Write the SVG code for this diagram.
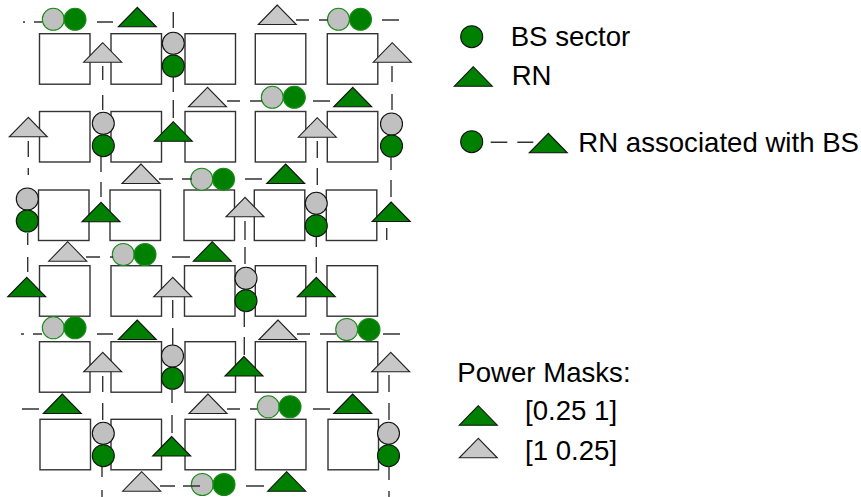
<svg xmlns="http://www.w3.org/2000/svg" xmlns:xlink="http://www.w3.org/1999/xlink" width="861" height="497" viewBox="0 0 861 497">
<style>
.sq{fill:#fff;stroke:#333;stroke-width:1.4}
.tg{fill:#008000;stroke:#111;stroke-width:1.1}
.tl{fill:#c8c8c8;stroke:#222;stroke-width:1.1}
.cgh{fill:#c0c0c0;stroke:#1a8a1a;stroke-width:1.1}
.cnh{fill:#008000;stroke:#1a8a1a;stroke-width:1.1}
.cgv{fill:#c0c0c0;stroke:#111;stroke-width:1.1}
.cnv{fill:#008000;stroke:#111;stroke-width:1.1}
.dl{fill:none;stroke:#333;stroke-width:1.4}
.tx{font-family:"Liberation Sans",Arial,sans-serif;font-size:27.6px;fill:#000}
</style>
<defs>
<path id="tri" d="M0,0 L-19,19.5 L19,19.5 Z"/>
</defs>
<rect width="861" height="497" fill="#fff"/>
<g id="blocks">
<rect class="sq" x="39.5" y="33.7" width="50.5" height="50.5"/>
<rect class="sq" x="111" y="33.7" width="50.5" height="50.5"/>
<rect class="sq" x="185" y="33.7" width="50.5" height="50.5"/>
<rect class="sq" x="255.3" y="33.7" width="50.5" height="50.5"/>
<rect class="sq" x="327.3" y="33.7" width="50.5" height="50.5"/>
<rect class="sq" x="39.5" y="111.5" width="50.5" height="50.5"/>
<rect class="sq" x="111" y="111.5" width="50.5" height="50.5"/>
<rect class="sq" x="185" y="111.5" width="50.5" height="50.5"/>
<rect class="sq" x="255.3" y="111.5" width="50.5" height="50.5"/>
<rect class="sq" x="327.3" y="111.5" width="50.5" height="50.5"/>
<rect class="sq" x="38.5" y="190" width="50.5" height="50.5"/>
<rect class="sq" x="110" y="190" width="50.5" height="50.5"/>
<rect class="sq" x="184" y="190" width="50.5" height="50.5"/>
<rect class="sq" x="254.3" y="190" width="50.5" height="50.5"/>
<rect class="sq" x="326.3" y="190" width="50.5" height="50.5"/>
<rect class="sq" x="39.5" y="265.7" width="50.5" height="50.5"/>
<rect class="sq" x="111" y="265.7" width="50.5" height="50.5"/>
<rect class="sq" x="184.5" y="265.7" width="50.5" height="50.5"/>
<rect class="sq" x="255.3" y="265.7" width="50.5" height="50.5"/>
<rect class="sq" x="327" y="265.7" width="50.5" height="50.5"/>
<rect class="sq" x="39.5" y="341.7" width="50.5" height="50.5"/>
<rect class="sq" x="111" y="341.7" width="50.5" height="50.5"/>
<rect class="sq" x="185" y="341.7" width="50.5" height="50.5"/>
<rect class="sq" x="255.3" y="341.7" width="50.5" height="50.5"/>
<rect class="sq" x="327.3" y="341.7" width="50.5" height="50.5"/>
<rect class="sq" x="40" y="419.3" width="50.5" height="50.5"/>
<rect class="sq" x="111" y="419.3" width="50.5" height="50.5"/>
<rect class="sq" x="185" y="419.3" width="50.5" height="50.5"/>
<rect class="sq" x="255.5" y="419.3" width="50.5" height="50.5"/>
<rect class="sq" x="328" y="419.3" width="50.5" height="50.5"/>
</g>
<g id="rn-green">
<g id="g1"><use xlink:href="#tri" class="tg" x="137.3" y="7.3"/></g>
<g id="g2"><use xlink:href="#tri" class="tg" x="173.3" y="121.7"/></g>
<g id="g3"><use xlink:href="#tri" class="tg" x="352.7" y="87.3"/></g>
<g id="g4"><use xlink:href="#tri" class="tg" x="101" y="202.3"/></g>
<g id="g5"><use xlink:href="#tri" class="tg" x="285.7" y="164"/></g>
<g id="g6"><use xlink:href="#tri" class="tg" x="391.2" y="202"/></g>
<g id="g7"><use xlink:href="#tri" class="tg" x="212.3" y="241.7"/></g>
<g id="g8"><use xlink:href="#tri" class="tg" x="26.7" y="277.3"/></g>
<g id="g9"><use xlink:href="#tri" class="tg" x="316.3" y="277.3"/></g>
<g id="g10"><use xlink:href="#tri" class="tg" x="137.3" y="320"/></g>
<g id="g11"><use xlink:href="#tri" class="tg" x="244" y="356.5"/></g>
<g id="g12"><use xlink:href="#tri" class="tg" x="62.3" y="394"/></g>
<g id="g13"><use xlink:href="#tri" class="tg" x="352.7" y="394"/></g>
<g id="g14"><use xlink:href="#tri" class="tg" x="171.7" y="436.5"/></g>
<g id="g15"><use xlink:href="#tri" class="tg" x="286.7" y="471.7"/></g>
</g>
<g id="rn-gray">
<g id="t1"><use xlink:href="#tri" class="tl" x="102.7" y="42.7"/></g>
<g id="t2"><use xlink:href="#tri" class="tl" x="277.3" y="5"/></g>
<g id="t3"><use xlink:href="#tri" class="tl" x="392.3" y="42.7"/></g>
<g id="t4"><use xlink:href="#tri" class="tl" x="28.3" y="117.3"/></g>
<g id="t5"><use xlink:href="#tri" class="tl" x="207.5" y="87.3"/></g>
<g id="t6"><use xlink:href="#tri" class="tl" x="317.3" y="117.7"/></g>
<g id="t7"><use xlink:href="#tri" class="tl" x="141" y="164"/></g>
<g id="t8"><use xlink:href="#tri" class="tl" x="245" y="197.3"/></g>
<g id="t9"><use xlink:href="#tri" class="tl" x="67.7" y="241.7"/></g>
<g id="t10"><use xlink:href="#tri" class="tl" x="172.7" y="277.3"/></g>
<g id="t11"><use xlink:href="#tri" class="tl" x="278" y="320"/></g>
<g id="t12"><use xlink:href="#tri" class="tl" x="102.7" y="352.3"/></g>
<g id="t13"><use xlink:href="#tri" class="tl" x="390.7" y="352.3"/></g>
<g id="t14"><use xlink:href="#tri" class="tl" x="208" y="394"/></g>
<g id="t15"><use xlink:href="#tri" class="tl" x="141.7" y="471.7"/></g>
</g>
<g id="bs-h">
<g id="h1"><circle class="cgh" cx="53.3" cy="19.3" r="11"/><circle class="cnh" cx="75" cy="19.3" r="11"/></g>
<g id="h2"><circle class="cgh" cx="338.5" cy="19.3" r="11"/><circle class="cnh" cx="360.5" cy="19.3" r="11"/></g>
<g id="h3"><circle class="cgh" cx="272.3" cy="97.3" r="11"/><circle class="cnh" cx="294.3" cy="97.3" r="11"/></g>
<g id="h4"><circle class="cgh" cx="201.7" cy="179.2" r="11"/><circle class="cnh" cx="223.5" cy="179.2" r="11"/></g>
<g id="h5"><circle class="cgh" cx="123.3" cy="254.5" r="11"/><circle class="cnh" cx="145" cy="254.5" r="11"/></g>
<g id="h6"><circle class="cgh" cx="53.3" cy="327.8" r="11"/><circle class="cnh" cx="75" cy="327.8" r="11"/></g>
<g id="h7"><circle class="cgh" cx="346.7" cy="329.5" r="11"/><circle class="cnh" cx="369" cy="329.5" r="11"/></g>
<g id="h8"><circle class="cgh" cx="268.3" cy="406.8" r="11"/><circle class="cnh" cx="290" cy="406.8" r="11"/></g>
<g id="h9"><circle class="cgh" cx="202.3" cy="484.5" r="11"/><circle class="cnh" cx="224" cy="484.5" r="11"/></g>
</g>
<g id="bs-v">
<g id="v1"><circle class="cgv" cx="173.3" cy="43.3" r="11"/><circle class="cnv" cx="173.3" cy="66" r="11"/></g>
<g id="v2"><circle class="cgv" cx="103.3" cy="123.3" r="11"/><circle class="cnv" cx="103.3" cy="145.7" r="11"/></g>
<g id="v3"><circle class="cgv" cx="391.5" cy="124" r="11"/><circle class="cnv" cx="391.5" cy="146" r="11"/></g>
<g id="v4"><circle class="cgv" cx="27.3" cy="199" r="11"/><circle class="cnv" cx="27.3" cy="221" r="11"/></g>
<g id="v5"><circle class="cgv" cx="316.3" cy="203.3" r="11"/><circle class="cnv" cx="316.3" cy="225.7" r="11"/></g>
<g id="v6"><circle class="cgv" cx="246" cy="278.3" r="11"/><circle class="cnv" cx="246" cy="300.7" r="11"/></g>
<g id="v7"><circle class="cgv" cx="172.5" cy="356" r="11"/><circle class="cnv" cx="172.5" cy="378.3" r="11"/></g>
<g id="v8"><circle class="cgv" cx="103.3" cy="433.3" r="11"/><circle class="cnv" cx="103.3" cy="455.7" r="11"/></g>
<g id="v9"><circle class="cgv" cx="388.5" cy="433.3" r="11"/><circle class="cnv" cx="388.5" cy="455.7" r="11"/></g>
</g>
<g id="connectors" class="dl">
<path d="M23,22H25M34,22H42M97,22H113M296,20H309M319,20H328M382,20H399"/>
<path d="M227,101H240M250,101H262M313,101H330"/>
<path d="M159,179H173M182,179H192M245,179H262"/>
<path d="M86,257H100M110,257H113M172,257H190"/>
<path d="M21,334H24M33,334H42M97,334H113M297,334H310M320,334H336M383,334H400"/>
<path d="M22,409H39M227,409H240M250,409H257M313,409H330"/>
<path d="M160,486H175M183,486H200M246,486H264"/>
<path d="M173.3,12V28M173.3,77V92M173.3,100V118"/>
<path d="M102.7,66V80M102.7,95V110"/>
<path d="M392,66V82M392,94V110"/>
<path d="M28.3,141V157M28.3,168V175"/>
<path d="M101,157V172M101,182V197"/>
<path d="M391,157V170M391,180V197"/>
<path d="M386.7,228V240"/>
<path d="M317.3,141V158M317.3,168V185"/>
<path d="M27.7,233V245M27.7,257V272"/>
<path d="M245,221V240M245,247V264"/>
<path d="M316.3,237V247M316.3,257V273"/>
<path d="M172.7,300V318M172.7,328V345"/>
<path d="M244.3,311V327M244.3,337V355"/>
<path d="M172,390V403M172,415V433"/>
<path d="M102.7,376V392M102.7,403V420"/>
<path d="M389,375V392M389,403V420"/>
<path d="M102,467V477M102,490V497"/>
<path d="M389,467V480M389,491V497"/>
</g>
<g id="legend">
<g id="leg-bs"><circle class="cnv" cx="471.7" cy="36.7" r="11"/><text class="tx" x="510.7" y="45.7">BS sector</text></g>
<g id="leg-rn"><use xlink:href="#tri" class="tg" x="473.3" y="66.7"/><text class="tx" x="511.7" y="85">RN</text></g>
<g id="leg-assoc"><circle class="cnv" cx="471.7" cy="141.7" r="11"/><path class="dl" d="M490.7,142.3H507.3M517.3,142.3H533.3"/><use xlink:href="#tri" class="tg" x="548.3" y="133.3"/><text class="tx" x="578.3" y="151.7">RN associated with BS</text></g>
<g id="leg-power"><text class="tx" x="457.3" y="381.7">Power Masks:</text>
<use xlink:href="#tri" class="tg" x="478.3" y="405.7"/><text class="tx" x="525" y="420">[0.25 1]</text>
<use xlink:href="#tri" class="tl" x="478.3" y="438.3"/><text class="tx" x="525" y="460">[1 0.25]</text></g>
</g>
</svg>
